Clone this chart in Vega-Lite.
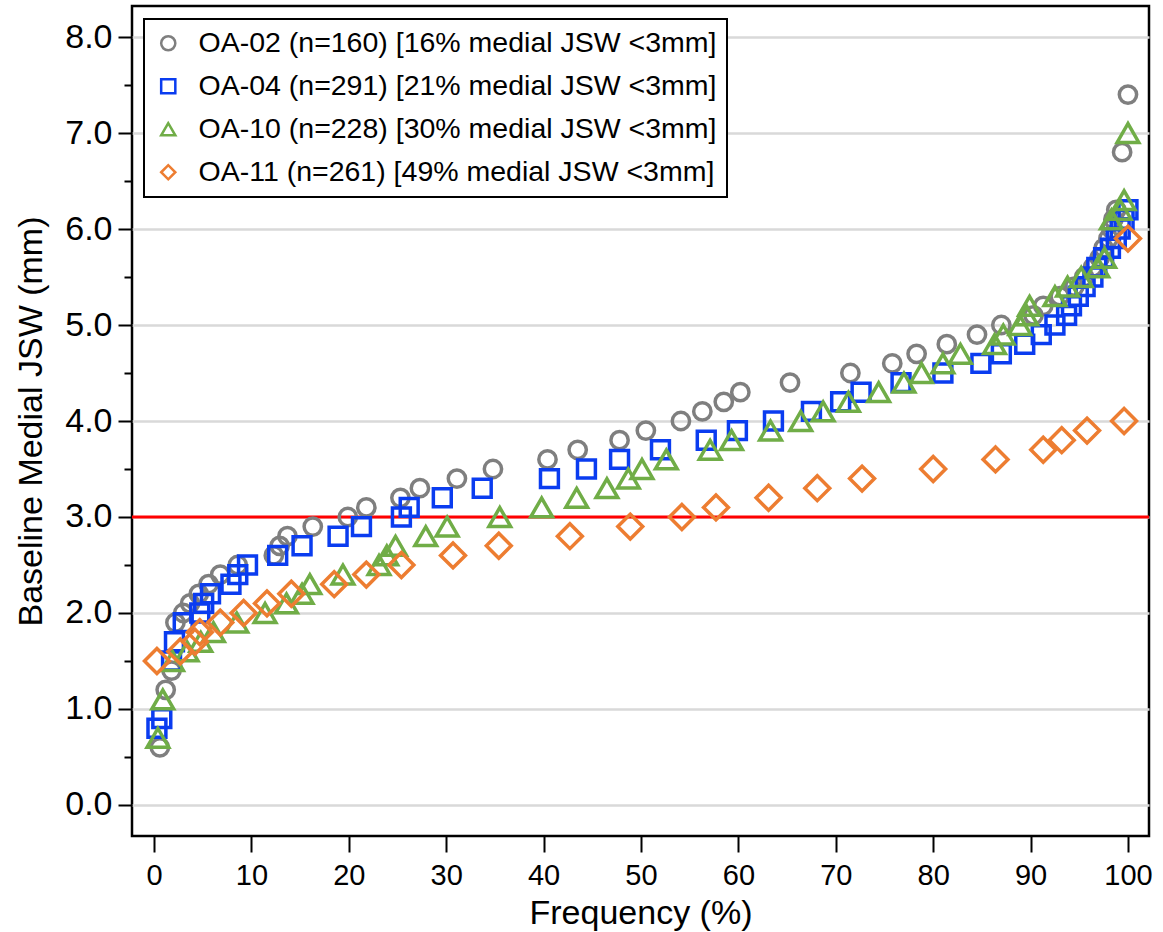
{
  "$schema": "https://vega.github.io/schema/vega-lite/v6.json",
  "width": 1017,
  "height": 830,
  "autosize": "none",
  "padding": {"left": 132, "top": 6, "right": 14, "bottom": 96},
  "background": "white",
  "config": {
    "view": {"stroke": "black", "strokeWidth": 2.5, "fill": "white"},
    "axisX": {
      "grid": false,
      "domain": false,
      "tickSize": 16,
      "tickWidth": 2,
      "tickColor": "black",
      "labelFont": "Liberation Sans",
      "labelFontSize": 29,
      "labelColor": "black",
      "labelPadding": 9,
      "labelFlush": false,
      "titleFont": "Liberation Sans",
      "titleFontSize": 34,
      "titleFontWeight": "normal",
      "titleColor": "black",
      "titlePadding": 6
    },
    "axisY": {
      "domain": false,
      "tickWidth": 2,
      "tickColor": "black",
      "labelFont": "Liberation Sans",
      "labelFontSize": 34,
      "labelColor": "black",
      "labelPadding": 6,
      "labelFlush": false,
      "titleFont": "Liberation Sans",
      "titleFontSize": 34,
      "titleFontWeight": "normal",
      "titleColor": "black",
      "titlePadding": 16
    },
    "legend": {
      "orient": "none",
      "legendX": 12,
      "legendY": 13,
      "strokeColor": "black",
      "strokeWidth": 2,
      "fillColor": "white",
      "padding": 10,
      "rowPadding": 14,
      "labelFont": "Liberation Sans",
      "labelFontSize": 28.5,
      "labelColor": "black",
      "labelOffset": 16,
      "labelLimit": 0,
      "symbolSize": 200,
      "symbolStrokeWidth": 2.5,
      "symbolFillColor": "transparent",
      "title": null
    }
  },
  "datasets": {
    "jsw": [
      {"study": "OA-02", "freq": 0.6, "jsw": 0.6},
      {"study": "OA-02", "freq": 1.2, "jsw": 1.2},
      {"study": "OA-02", "freq": 1.8, "jsw": 1.4},
      {"study": "OA-02", "freq": 2.2, "jsw": 1.9},
      {"study": "OA-02", "freq": 3.0, "jsw": 2.0},
      {"study": "OA-02", "freq": 3.7, "jsw": 2.1},
      {"study": "OA-02", "freq": 4.6, "jsw": 2.2},
      {"study": "OA-02", "freq": 5.6, "jsw": 2.3},
      {"study": "OA-02", "freq": 6.8, "jsw": 2.4},
      {"study": "OA-02", "freq": 8.6, "jsw": 2.5},
      {"study": "OA-02", "freq": 12.3, "jsw": 2.6},
      {"study": "OA-02", "freq": 12.9, "jsw": 2.7},
      {"study": "OA-02", "freq": 13.7, "jsw": 2.8},
      {"study": "OA-02", "freq": 16.3, "jsw": 2.9},
      {"study": "OA-02", "freq": 19.9, "jsw": 3.0},
      {"study": "OA-02", "freq": 21.8, "jsw": 3.1},
      {"study": "OA-02", "freq": 25.3, "jsw": 3.2},
      {"study": "OA-02", "freq": 27.3, "jsw": 3.3},
      {"study": "OA-02", "freq": 31.1, "jsw": 3.4},
      {"study": "OA-02", "freq": 34.8, "jsw": 3.5},
      {"study": "OA-02", "freq": 40.4, "jsw": 3.6},
      {"study": "OA-02", "freq": 43.5, "jsw": 3.7},
      {"study": "OA-02", "freq": 47.8, "jsw": 3.8},
      {"study": "OA-02", "freq": 50.5, "jsw": 3.9},
      {"study": "OA-02", "freq": 54.1, "jsw": 4.0},
      {"study": "OA-02", "freq": 56.3, "jsw": 4.1},
      {"study": "OA-02", "freq": 58.5, "jsw": 4.2},
      {"study": "OA-02", "freq": 60.2, "jsw": 4.3},
      {"study": "OA-02", "freq": 65.3, "jsw": 4.4},
      {"study": "OA-02", "freq": 71.5, "jsw": 4.5},
      {"study": "OA-02", "freq": 75.8, "jsw": 4.6},
      {"study": "OA-02", "freq": 78.3, "jsw": 4.7},
      {"study": "OA-02", "freq": 81.4, "jsw": 4.8},
      {"study": "OA-02", "freq": 84.5, "jsw": 4.9},
      {"study": "OA-02", "freq": 87.0, "jsw": 5.0},
      {"study": "OA-02", "freq": 90.3, "jsw": 5.1},
      {"study": "OA-02", "freq": 91.3, "jsw": 5.2},
      {"study": "OA-02", "freq": 93.0, "jsw": 5.3},
      {"study": "OA-02", "freq": 94.5, "jsw": 5.4},
      {"study": "OA-02", "freq": 95.5, "jsw": 5.5},
      {"study": "OA-02", "freq": 96.4, "jsw": 5.6},
      {"study": "OA-02", "freq": 97.1, "jsw": 5.7},
      {"study": "OA-02", "freq": 97.5, "jsw": 5.8},
      {"study": "OA-02", "freq": 98.0, "jsw": 5.9},
      {"study": "OA-02", "freq": 98.3, "jsw": 6.0},
      {"study": "OA-02", "freq": 98.5, "jsw": 6.1},
      {"study": "OA-02", "freq": 98.8, "jsw": 6.2},
      {"study": "OA-02", "freq": 99.4, "jsw": 6.8},
      {"study": "OA-02", "freq": 100.0, "jsw": 7.4},
      {"study": "OA-04", "freq": 0.3, "jsw": 0.8},
      {"study": "OA-04", "freq": 0.8, "jsw": 0.9},
      {"study": "OA-04", "freq": 1.8, "jsw": 1.5},
      {"study": "OA-04", "freq": 2.1, "jsw": 1.7},
      {"study": "OA-04", "freq": 3.0, "jsw": 1.9},
      {"study": "OA-04", "freq": 4.7, "jsw": 2.0},
      {"study": "OA-04", "freq": 5.1, "jsw": 2.1},
      {"study": "OA-04", "freq": 5.8, "jsw": 2.2},
      {"study": "OA-04", "freq": 7.9, "jsw": 2.3},
      {"study": "OA-04", "freq": 8.6, "jsw": 2.4},
      {"study": "OA-04", "freq": 9.6, "jsw": 2.5},
      {"study": "OA-04", "freq": 12.7, "jsw": 2.6},
      {"study": "OA-04", "freq": 15.2, "jsw": 2.7},
      {"study": "OA-04", "freq": 18.9, "jsw": 2.8},
      {"study": "OA-04", "freq": 21.3, "jsw": 2.9},
      {"study": "OA-04", "freq": 25.4, "jsw": 3.0},
      {"study": "OA-04", "freq": 26.2, "jsw": 3.1},
      {"study": "OA-04", "freq": 29.6, "jsw": 3.2},
      {"study": "OA-04", "freq": 33.7, "jsw": 3.3},
      {"study": "OA-04", "freq": 40.6, "jsw": 3.4},
      {"study": "OA-04", "freq": 44.4, "jsw": 3.5},
      {"study": "OA-04", "freq": 47.8, "jsw": 3.6},
      {"study": "OA-04", "freq": 52.0, "jsw": 3.7},
      {"study": "OA-04", "freq": 56.7, "jsw": 3.8},
      {"study": "OA-04", "freq": 59.9, "jsw": 3.9},
      {"study": "OA-04", "freq": 63.6, "jsw": 4.0},
      {"study": "OA-04", "freq": 67.5, "jsw": 4.1},
      {"study": "OA-04", "freq": 70.5, "jsw": 4.2},
      {"study": "OA-04", "freq": 72.6, "jsw": 4.3},
      {"study": "OA-04", "freq": 76.7, "jsw": 4.4},
      {"study": "OA-04", "freq": 81.0, "jsw": 4.5},
      {"study": "OA-04", "freq": 84.9, "jsw": 4.6},
      {"study": "OA-04", "freq": 87.0, "jsw": 4.7},
      {"study": "OA-04", "freq": 89.4, "jsw": 4.8},
      {"study": "OA-04", "freq": 91.1, "jsw": 4.9},
      {"study": "OA-04", "freq": 92.5, "jsw": 5.0},
      {"study": "OA-04", "freq": 93.7, "jsw": 5.1},
      {"study": "OA-04", "freq": 94.2, "jsw": 5.2},
      {"study": "OA-04", "freq": 94.9, "jsw": 5.3},
      {"study": "OA-04", "freq": 95.6, "jsw": 5.4},
      {"study": "OA-04", "freq": 96.4, "jsw": 5.5},
      {"study": "OA-04", "freq": 96.8, "jsw": 5.6},
      {"study": "OA-04", "freq": 97.5, "jsw": 5.7},
      {"study": "OA-04", "freq": 98.2, "jsw": 5.8},
      {"study": "OA-04", "freq": 98.8, "jsw": 5.9},
      {"study": "OA-04", "freq": 99.2, "jsw": 6.0},
      {"study": "OA-04", "freq": 99.6, "jsw": 6.1},
      {"study": "OA-04", "freq": 100.0, "jsw": 6.2},
      {"study": "OA-10", "freq": 0.4, "jsw": 0.7},
      {"study": "OA-10", "freq": 0.9, "jsw": 1.1},
      {"study": "OA-10", "freq": 1.9, "jsw": 1.5},
      {"study": "OA-10", "freq": 3.4, "jsw": 1.6},
      {"study": "OA-10", "freq": 4.8, "jsw": 1.7},
      {"study": "OA-10", "freq": 6.1, "jsw": 1.8},
      {"study": "OA-10", "freq": 8.5, "jsw": 1.9},
      {"study": "OA-10", "freq": 11.4, "jsw": 2.0},
      {"study": "OA-10", "freq": 13.6, "jsw": 2.1},
      {"study": "OA-10", "freq": 15.2, "jsw": 2.2},
      {"study": "OA-10", "freq": 16.0, "jsw": 2.3},
      {"study": "OA-10", "freq": 19.4, "jsw": 2.4},
      {"study": "OA-10", "freq": 23.1, "jsw": 2.5},
      {"study": "OA-10", "freq": 23.9, "jsw": 2.6},
      {"study": "OA-10", "freq": 24.8, "jsw": 2.7},
      {"study": "OA-10", "freq": 27.9, "jsw": 2.8},
      {"study": "OA-10", "freq": 30.1, "jsw": 2.9},
      {"study": "OA-10", "freq": 35.5, "jsw": 3.0},
      {"study": "OA-10", "freq": 39.8, "jsw": 3.1},
      {"study": "OA-10", "freq": 43.4, "jsw": 3.2},
      {"study": "OA-10", "freq": 46.5, "jsw": 3.3},
      {"study": "OA-10", "freq": 48.7, "jsw": 3.4},
      {"study": "OA-10", "freq": 50.1, "jsw": 3.5},
      {"study": "OA-10", "freq": 52.6, "jsw": 3.6},
      {"study": "OA-10", "freq": 57.1, "jsw": 3.7},
      {"study": "OA-10", "freq": 59.3, "jsw": 3.8},
      {"study": "OA-10", "freq": 63.3, "jsw": 3.9},
      {"study": "OA-10", "freq": 66.4, "jsw": 4.0},
      {"study": "OA-10", "freq": 68.7, "jsw": 4.1},
      {"study": "OA-10", "freq": 71.3, "jsw": 4.2},
      {"study": "OA-10", "freq": 74.4, "jsw": 4.3},
      {"study": "OA-10", "freq": 77.0, "jsw": 4.4},
      {"study": "OA-10", "freq": 78.8, "jsw": 4.5},
      {"study": "OA-10", "freq": 81.0, "jsw": 4.6},
      {"study": "OA-10", "freq": 82.8, "jsw": 4.7},
      {"study": "OA-10", "freq": 86.3, "jsw": 4.8},
      {"study": "OA-10", "freq": 87.2, "jsw": 4.9},
      {"study": "OA-10", "freq": 88.9, "jsw": 5.0},
      {"study": "OA-10", "freq": 89.6, "jsw": 5.1},
      {"study": "OA-10", "freq": 89.9, "jsw": 5.2},
      {"study": "OA-10", "freq": 92.5, "jsw": 5.3},
      {"study": "OA-10", "freq": 93.8, "jsw": 5.4},
      {"study": "OA-10", "freq": 95.2, "jsw": 5.5},
      {"study": "OA-10", "freq": 96.9, "jsw": 5.6},
      {"study": "OA-10", "freq": 97.6, "jsw": 5.7},
      {"study": "OA-10", "freq": 98.3, "jsw": 6.1},
      {"study": "OA-10", "freq": 99.2, "jsw": 6.2},
      {"study": "OA-10", "freq": 99.6, "jsw": 6.3},
      {"study": "OA-10", "freq": 100.0, "jsw": 7.0},
      {"study": "OA-11", "freq": 0.3, "jsw": 1.5},
      {"study": "OA-11", "freq": 2.7, "jsw": 1.6},
      {"study": "OA-11", "freq": 4.2, "jsw": 1.7},
      {"study": "OA-11", "freq": 4.7, "jsw": 1.8},
      {"study": "OA-11", "freq": 6.8, "jsw": 1.9},
      {"study": "OA-11", "freq": 9.2, "jsw": 2.0},
      {"study": "OA-11", "freq": 11.6, "jsw": 2.1},
      {"study": "OA-11", "freq": 14.1, "jsw": 2.2},
      {"study": "OA-11", "freq": 18.5, "jsw": 2.3},
      {"study": "OA-11", "freq": 21.8, "jsw": 2.4},
      {"study": "OA-11", "freq": 25.4, "jsw": 2.5},
      {"study": "OA-11", "freq": 30.7, "jsw": 2.6},
      {"study": "OA-11", "freq": 35.4, "jsw": 2.7},
      {"study": "OA-11", "freq": 42.7, "jsw": 2.8},
      {"study": "OA-11", "freq": 48.9, "jsw": 2.9},
      {"study": "OA-11", "freq": 54.2, "jsw": 3.0},
      {"study": "OA-11", "freq": 57.7, "jsw": 3.1},
      {"study": "OA-11", "freq": 63.1, "jsw": 3.2},
      {"study": "OA-11", "freq": 68.1, "jsw": 3.3},
      {"study": "OA-11", "freq": 72.7, "jsw": 3.4},
      {"study": "OA-11", "freq": 80.0, "jsw": 3.5},
      {"study": "OA-11", "freq": 86.4, "jsw": 3.6},
      {"study": "OA-11", "freq": 91.3, "jsw": 3.7},
      {"study": "OA-11", "freq": 93.2, "jsw": 3.8},
      {"study": "OA-11", "freq": 95.8, "jsw": 3.9},
      {"study": "OA-11", "freq": 99.6, "jsw": 4.0},
      {"study": "OA-11", "freq": 100.0, "jsw": 5.9}
    ],
    "threshold": [{"cutoff": 3.0}]
  },
  "layer": [
    {
      "data": {"name": "threshold"},
      "mark": {"type": "rule", "color": "#ff0000", "strokeWidth": 3},
      "encoding": {
        "y": {
          "field": "cutoff",
          "type": "quantitative",
          "scale": {"domain": [-0.323, 8.323], "nice": false, "zero": false},
          "axis": {
            "orient": "left",
            "values": [0.5, 1.5, 2.5, 3.5, 4.5, 5.5, 6.5, 7.5],
            "labels": false,
            "grid": false,
            "tickSize": 8,
            "title": null
          }
        }
      }
    },
    {
      "data": {"name": "jsw"},
      "transform": [{"filter": "datum.study == 'OA-02'"}],
      "mark": {"type": "point", "filled": false, "strokeWidth": 3.5, "opacity": 1, "size": 300},
      "encoding": {
        "x": {
          "field": "freq",
          "type": "quantitative",
          "scale": {"domain": [-2.26, 102.16], "nice": false, "zero": false},
          "axis": {"values": [0, 10, 20, 30, 40, 50, 60, 70, 80, 90, 100], "title": "Frequency (%)"}
        },
        "y": {
          "field": "jsw",
          "type": "quantitative",
          "scale": {"domain": [-0.323, 8.323], "nice": false, "zero": false},
          "axis": {
            "orient": "left",
            "values": [0, 1, 2, 3, 4, 5, 6, 7, 8],
            "format": ".1f",
            "grid": true,
            "gridColor": "#d9d9d9",
            "gridWidth": 2.5,
            "tickSize": 14,
            "title": "Baseline Medial JSW (mm)"
          }
        },
        "color": {
          "field": "study",
          "type": "nominal",
          "scale": {
            "domain": ["OA-02", "OA-04", "OA-10", "OA-11"],
            "range": ["#7f7f7f", "#0a3cf0", "#70ad47", "#ed7d31"]
          },
          "legend": {
            "labelExpr": "datum.label == 'OA-02' ? 'OA-02 (n=160) [16% medial JSW <3mm]' : datum.label == 'OA-04' ? 'OA-04 (n=291) [21% medial JSW <3mm]' : datum.label == 'OA-10' ? 'OA-10 (n=228) [30% medial JSW <3mm]' : 'OA-11 (n=261) [49% medial JSW <3mm]'"
          }
        },
        "shape": {
          "field": "study",
          "type": "nominal",
          "scale": {
            "domain": ["OA-02", "OA-04", "OA-10", "OA-11"],
            "range": ["circle", "square", "triangle-up", "diamond"]
          },
          "legend": {
            "labelExpr": "datum.label == 'OA-02' ? 'OA-02 (n=160) [16% medial JSW <3mm]' : datum.label == 'OA-04' ? 'OA-04 (n=291) [21% medial JSW <3mm]' : datum.label == 'OA-10' ? 'OA-10 (n=228) [30% medial JSW <3mm]' : 'OA-11 (n=261) [49% medial JSW <3mm]'"
          }
        }
      }
    },
    {
      "data": {"name": "jsw"},
      "transform": [{"filter": "datum.study == 'OA-04'"}],
      "mark": {"type": "point", "filled": false, "strokeWidth": 3.5, "opacity": 1, "size": 320},
      "encoding": {
        "x": {"field": "freq", "type": "quantitative"},
        "y": {"field": "jsw", "type": "quantitative", "axis": null},
        "color": {"field": "study", "type": "nominal"},
        "shape": {"field": "study", "type": "nominal"}
      }
    },
    {
      "data": {"name": "jsw"},
      "transform": [{"filter": "datum.study == 'OA-10'"}],
      "mark": {"type": "point", "filled": false, "strokeWidth": 3.5, "opacity": 1, "size": 470},
      "encoding": {
        "x": {"field": "freq", "type": "quantitative"},
        "y": {"field": "jsw", "type": "quantitative", "axis": null},
        "color": {"field": "study", "type": "nominal"},
        "shape": {"field": "study", "type": "nominal"}
      }
    },
    {
      "data": {"name": "jsw"},
      "transform": [{"filter": "datum.study == 'OA-11'"}],
      "mark": {"type": "point", "filled": false, "strokeWidth": 3.5, "opacity": 1, "size": 620},
      "encoding": {
        "x": {"field": "freq", "type": "quantitative"},
        "y": {"field": "jsw", "type": "quantitative", "axis": null},
        "color": {"field": "study", "type": "nominal"},
        "shape": {"field": "study", "type": "nominal"}
      }
    }
  ],
  "resolve": {"axis": {"y": "independent"}}
}
